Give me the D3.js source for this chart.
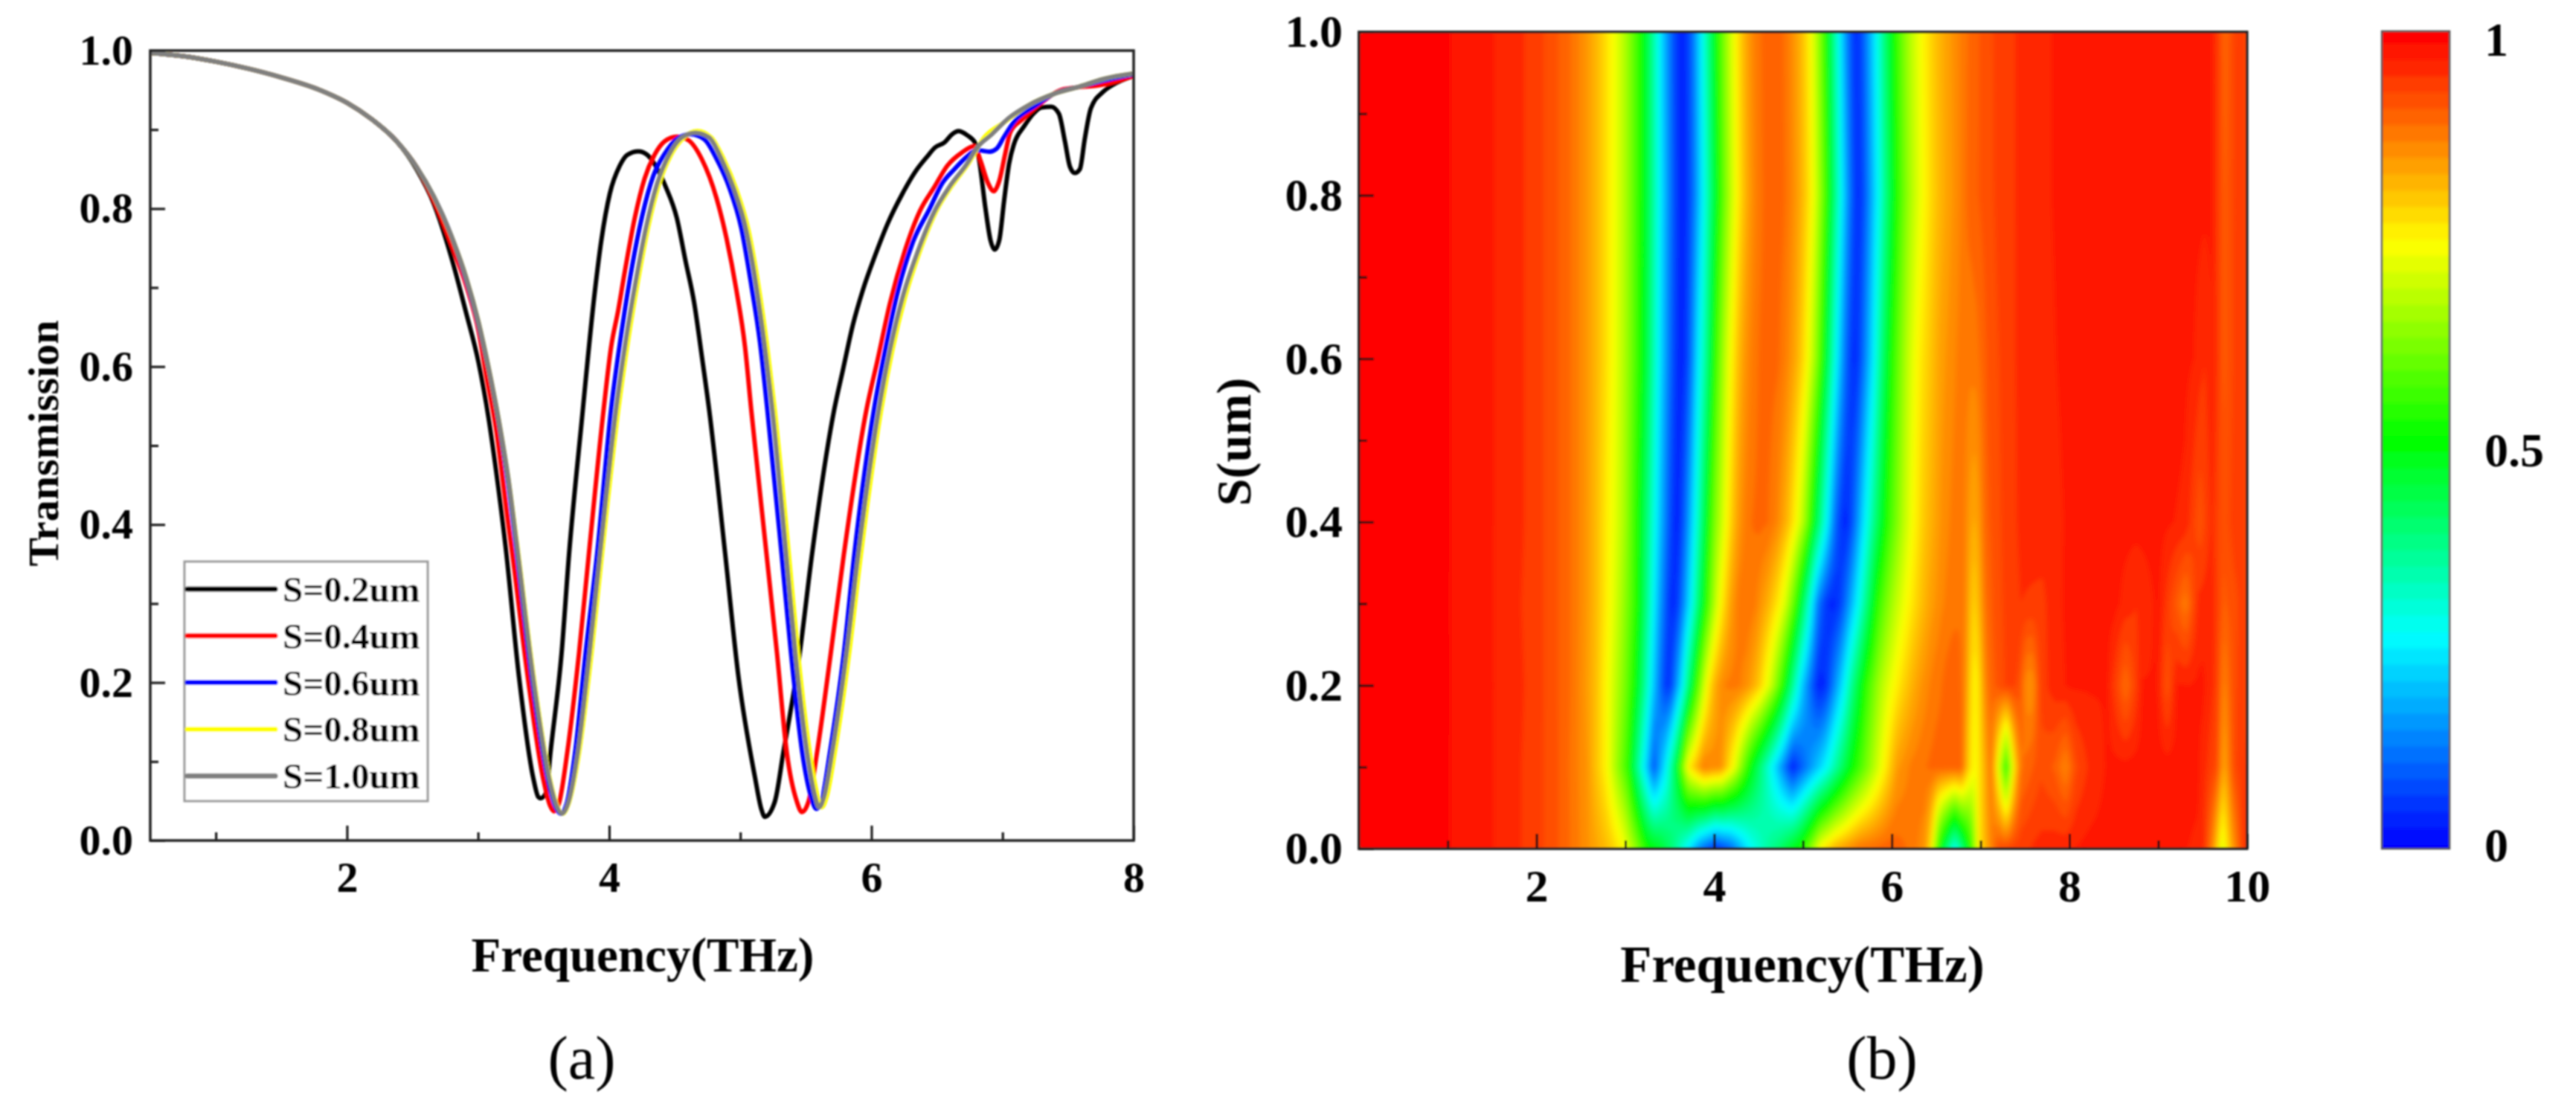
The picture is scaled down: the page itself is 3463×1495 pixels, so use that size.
<!DOCTYPE html>
<html><head><meta charset="utf-8">
<script src="https://cdnjs.cloudflare.com/ajax/libs/d3/7.8.5/d3.min.js"></script>
<style>html,body{margin:0;padding:0;background:#fff;overflow:hidden}svg{display:block}text{font-family:"Liberation Serif",serif;font-weight:bold;fill:#000}</style>
</head><body><svg id="c" width="3463" height="1495" xmlns="http://www.w3.org/2000/svg"></svg>
<script>
// ---- panel (a): transmission spectra ----
const seriesNames = ["S=0.2um","S=0.4um","S=0.6um","S=0.8um","S=1.0um"];
const seriesColors = ["#000000","#ff0000","#0000ff","#ffff00","#808080"];
const f02 = [.5,.75,1,1.25,1.5,1.81,2,2.19,2.38,2.53,2.663,2.795,2.909,3.004,3.08,3.136,3.21,3.313,3.42,3.46,3.476,3.52,3.552,3.637,3.694,3.79,3.892,3.94,4.005,4.08,4.138,4.223,4.29,4.365,4.43,4.516,4.582,4.648,4.705,4.762,4.885,4.987,5.112,5.16,5.187,5.263,5.328,5.453,5.547,5.717,5.783,5.859,5.935,6.029,6.124,6.237,6.332,6.426,6.483,6.559,6.615,6.663,6.729,6.795,6.823,6.87,6.908,6.94,6.975,7.012,7.05,7.088,7.164,7.24,7.296,7.372,7.43,7.476,7.514,7.551,7.59,7.627,7.674,7.769,7.845,8];
const t02 = [.997,.993,.986,.977,.966,.949,.934,.913,.885,.85,.806,.739,.668,.605,.535,.47,.372,.206,.08,.055,.0535,.061,.111,.237,.3625,.53,.697,.7595,.819,.854,.868,.8725,.868,.851,.828,.788,.734,.681,.615,.546,.3625,.206,.08,.04,.03,.049,.111,.237,.3625,.546,.596,.653,.697,.741,.781,.819,.846,.866,.877,.884,.894,.898,.893,.882,.86,.8,.76,.748,.76,.81,.857,.882,.904,.921,.928,.929,.92,.885,.853,.845,.85,.888,.927,.948,.957,.968];
const f04 = [.5,.75,1,1.25,1.5,1.81,2,2.19,2.38,2.53,2.663,2.795,2.909,3.004,3.06,3.136,3.23,3.262,3.38,3.495,3.55,3.58,3.62,3.68,3.77,3.845,3.958,4.015,4.07,4.119,4.195,4.27,4.346,4.422,4.516,4.6,4.705,4.819,4.894,4.97,5.036,5.083,5.2,5.28,5.355,5.43,5.47,5.52,5.585,5.69,5.79,5.963,6.048,6.143,6.256,6.37,6.483,6.578,6.691,6.785,6.833,6.89,6.933,6.975,7.02,7.06,7.145,7.26,7.466,7.769,8];
const t04 = [.997,.993,.986,.977,.966,.949,.934,.913,.885,.853,.81,.755,.703,.645,.592,.523,.402,.3625,.206,.08,.044,.037,.049,.111,.237,.3625,.546,.625,.672,.72,.788,.838,.868,.885,.891,.887,.863,.813,.763,.697,.625,.546,.3625,.237,.111,.05,.036,.049,.111,.237,.3625,.546,.609,.681,.747,.797,.828,.854,.871,.879,.86,.832,.822,.835,.869,.897,.912,.929,.951,.957,.968];
const f06 = [.5,.75,1,1.25,1.5,1.81,2,2.19,2.38,2.53,2.663,2.795,2.909,3.004,3.08,3.155,3.23,3.29,3.41,3.53,3.59,3.63,3.68,3.74,3.82,3.908,4.015,4.1,4.176,4.251,4.336,4.422,4.516,4.62,4.724,4.819,4.913,5.008,5.084,5.15,5.206,5.315,5.387,5.473,5.54,5.58,5.62,5.683,5.79,5.87,6.02,6.105,6.2,6.313,6.445,6.54,6.634,6.73,6.805,6.9,6.956,7.012,7.088,7.24,7.39,7.58,7.769,8];
const t06 = [.997,.993,.986,.977,.966,.949,.934,.913,.885,.853,.815,.766,.71,.653,.597,.532,.451,.372,.206,.08,.043,.034,.049,.111,.237,.3625,.546,.65,.728,.79,.841,.869,.888,.894,.888,.863,.828,.775,.703,.631,.546,.3625,.237,.111,.055,.04,.05,.111,.237,.3625,.546,.621,.694,.756,.8,.832,.85,.866,.874,.872,.876,.891,.91,.929,.945,.954,.962,.97];
const f08 = [.5,.75,1,1.25,1.5,1.81,2,2.19,2.38,2.53,2.663,2.795,2.909,3.004,3.08,3.155,3.23,3.3,3.425,3.545,3.605,3.645,3.695,3.77,3.865,3.945,4.07,4.145,4.22,4.295,4.38,4.475,4.57,4.672,4.777,4.872,4.968,5.063,5.138,5.205,5.262,5.37,5.44,5.53,5.59,5.62,5.66,5.72,5.83,5.92,6.075,6.16,6.255,6.365,6.495,6.61,6.74,6.86,7.012,7.2,7.39,7.58,7.769,8];
const t08 = [.997,.993,.986,.977,.966,.949,.934,.913,.885,.853,.815,.766,.713,.656,.599,.535,.459,.372,.206,.08,.043,.034,.049,.111,.237,.3625,.546,.634,.709,.775,.831,.869,.89,.898,.89,.863,.825,.772,.703,.625,.546,.3625,.237,.111,.056,.042,.056,.111,.237,.3625,.546,.621,.687,.744,.797,.828,.857,.89,.909,.931,.945,.954,.964,.971];
const f10 = [.5,.75,1,1.25,1.5,1.81,2,2.19,2.38,2.53,2.663,2.795,2.909,3.004,3.08,3.155,3.23,3.297,3.42,3.54,3.6,3.64,3.69,3.76,3.85,3.93,4.053,4.128,4.204,4.28,4.365,4.46,4.554,4.658,4.762,4.856,4.951,5.046,5.121,5.187,5.244,5.35,5.42,5.51,5.57,5.6,5.64,5.7,5.81,5.9,6.057,6.142,6.237,6.35,6.483,6.597,6.73,6.805,6.918,7.05,7.2,7.39,7.58,7.769,8];
const t10 = [.997,.993,.986,.977,.966,.949,.934,.913,.885,.853,.815,.766,.713,.656,.599,.535,.459,.372,.206,.08,.043,.034,.049,.111,.237,.3625,.546,.634,.709,.775,.831,.869,.89,.896,.89,.863,.825,.772,.703,.625,.546,.3625,.237,.111,.056,.042,.056,.111,.237,.3625,.546,.621,.687,.744,.797,.828,.857,.877,.894,.915,.931,.945,.954,.964,.971];
const seriesF = [f02,f04,f06,f08,f10];
const seriesT = [t02,t04,t06,t08,t10];

const tailF02 = [8.43,8.55,8.63,8.72,8.82,8.99,9.1,9.21,9.35,9.5,9.65,9.74,9.85,10];
const tailT02 = [.966,.92,.885,.92,.966,.966,.91,.966,.965,.97,.94,.86,.92,.94];
const tailF04 = [8.5,9,9.3,9.47,9.6,9.74,9.85,10];
const tailT04 = [.972,.972,.96,.91,.95,.91,.935,.94];
const tailF06 = [8.5,9.2,9.4,9.52,9.62,9.74,9.88,10];
const tailT06 = [.975,.975,.965,.945,.965,.9,.935,.935];
const tailF08 = [9,9.6,9.68,9.75,9.88,10];
const tailT08 = [.975,.97,.93,.9,.935,.935];
const tailF10 = [9,9.6,9.68,9.75,9.88,10];
const tailT10 = [.975,.97,.93,.89,.935,.935];
const rowF00 = [.5,1,1.5,2,2.29,2.57,2.82,2.96,3.1,3.24,3.4,3.54,3.69,3.85,4.02,4.19,4.3,4.41,4.58,4.74,4.97,5.08,5.2,5.36,5.64,6,6.22,6.37,6.45,6.53,6.71,6.9,6.98,7.06,7.2,7.62,8.18,9,9.5,9.62,9.72,9.82,9.97];
const rowT00 = [.997,.986,.966,.934,.9,.85,.8,.75,.65,.52,.46,.38,.26,.12,.04,.1,.18,.26,.34,.4,.52,.62,.75,.82,.88,.9,.88,.85,.75,.52,.26,.55,.76,.82,.92,.95,.97,.975,.96,.85,.7,.82,.95];
const rowF01 = [.5,1,1.5,2,2.29,2.57,2.78,3.02,3.21,3.32,3.46,3.6,3.71,3.88,4.08,4.16,4.22,4.41,4.66,4.88,5.25,5.55,5.92,6.06,6.22,6.45,6.78,6.87,6.94,7,7.12,7.2,7.29,7.37,7.45,7.68,7.84,7.96,8.07,8.23,8.46,9,9.44,9.66,9.74,9.85,10];
const rowT01 = [.997,.986,.966,.934,.9,.845,.75,.55,.25,.08,.25,.5,.75,.87,.85,.78,.73,.5,.25,.03,.25,.5,.75,.84,.87,.89,.9,.78,.73,.78,.88,.72,.52,.75,.88,.92,.9,.86,.92,.95,.97,.975,.97,.92,.82,.92,.95];
const rowF03 = [.5,1,1.5,2,2.19,2.38,2.53,2.663,2.795,2.909,3.004,3.08,3.15,3.24,3.35,3.46,3.51,3.53,3.58,3.64,3.73,3.8,3.92,4,4.08,4.18,4.28,4.36,4.46,4.6,4.72,4.8,4.9,5,5.08,5.16,5.26,5.34,5.42,5.48,5.6,5.7,5.85,5.95,6.05,6.16,6.3,6.42,6.55,6.7,6.8,6.85,6.92,6.98,7.05,7.15,7.25,7.45,7.7,7.85,8,8.5,8.75,9,9.31,9.45,9.6,9.74,10];
const rowT03 = [.997,.986,.966,.934,.913,.885,.853,.81,.752,.69,.625,.57,.5,.372,.206,.08,.042,.04,.05,.111,.237,.3625,.546,.66,.75,.83,.875,.885,.87,.82,.76,.7,.58,.42,.28,.13,.05,.035,.06,.111,.237,.3625,.546,.62,.68,.735,.79,.83,.86,.88,.885,.84,.78,.81,.88,.91,.925,.945,.94,.96,.97,.972,.945,.97,.87,.95,.96,.9,.94];
const heatS = [0,.1,.2,.3,.4,.6,.8,1];
const heatF = [rowF00,rowF01,f02.concat(tailF02),rowF03,f04.concat(tailF04),f06.concat(tailF06),f08.concat(tailF08),f10.concat(tailF10)];
const heatT = [rowT00,rowT01,t02.concat(tailT02),rowT03,t04.concat(tailT04),t06.concat(tailT06),t08.concat(tailT08),t10.concat(tailT10)];

// ---- ticks / labels ----
const xTicksA = [2,4,6,8], xMinorA = [1,3,5,7];
const xTicksB = [2,4,6,8,10], xMinorB = [1,3,5,7,9];
const yTicks = [0,.2,.4,.6,.8,1], yMinor = [.1,.3,.5,.7,.9];
const cbarTicks = [[1,"1"],[.5,"0.5"],[0,"0"]];
const colorStops = [0,.26,.5,.74,.995];
const colorVals = ["#0000ff","#00ffff","#00ff00","#ffff00","#ff0000"];
const levels = d3.range(50).map(k => .985 - .02*k);

const svg = d3.select("#c");
const A = {l:202,r:1524,t:68,b:1130}, B = {l:1826.8,r:3020.8,t:43,b:1141}, C = {l:3202,r:3293,t:42,b:1141};
const xA = d3.scaleLinear([.5,8],[A.l,A.r]), yA = d3.scaleLinear([0,1],[A.b,A.t]);
const xB = d3.scaleLinear([0,10],[B.l,B.r]), yB = d3.scaleLinear([0,1],[B.b,B.t]);
const yC = d3.scaleLinear([0,1],[C.b,C.t]);
const color = d3.scaleLinear(colorStops,colorVals).clamp(true);

const defs = svg.append("defs");
[["soft",.9],["mapBlur",3.2],["barBlur",2.5]].forEach(([id,sd])=>{
  defs.append("filter").attr("id",id).attr("filterUnits","userSpaceOnUse").attr("x",0).attr("y",0).attr("width",3463).attr("height",1495)
    .append("feGaussianBlur").attr("stdDeviation",sd);
});
const root = svg.append("g").attr("filter","url(#soft)");

function axes(g, x, y, box, xT, xM, fs, xLabY, yLabX){
  const bottom = d3.axisBottom(x).tickValues(xT).tickSize(-20).tickFormat(d3.format("d"));
  const gx = g.append("g").attr("transform",`translate(0,${box.b})`).call(bottom);
  const left = d3.axisLeft(y).tickValues(yTicks).tickSize(-20).tickFormat(d3.format(".1f"));
  const gy = g.append("g").attr("transform",`translate(${box.l},0)`).call(left);
  g.append("g").attr("transform",`translate(0,${box.b})`).call(d3.axisBottom(x).tickValues(xM).tickSize(-11).tickFormat(""));
  g.append("g").attr("transform",`translate(${box.l},0)`).call(d3.axisLeft(y).tickValues(yMinor).tickSize(-11).tickFormat(""));
  g.selectAll(".domain").remove();
  g.selectAll(".tick line").attr("stroke","#111").attr("stroke-width",3);
  gx.selectAll("text").attr("y",xLabY-box.b).attr("dy",0).attr("font-size",fs).style("font-family",'"Liberation Serif"').style("font-weight","bold").attr("fill","#000");
  gy.selectAll("text").attr("x",yLabX-box.l).attr("font-size",fs).style("font-family",'"Liberation Serif"').style("font-weight","bold").attr("fill","#000");
  g.append("rect").attr("x",box.l).attr("y",box.t).attr("width",box.r-box.l).attr("height",box.b-box.t)
    .attr("fill","none").attr("stroke","#222").attr("stroke-width",3.5);
}
defs.append("clipPath").attr("id","clipA").append("rect").attr("x",A.l).attr("y",A.t).attr("width",A.r-A.l).attr("height",A.b-A.t);
defs.append("clipPath").attr("id","clipB").append("rect").attr("x",B.l).attr("y",B.t).attr("width",B.r-B.l).attr("height",B.b-B.t);
defs.append("clipPath").attr("id","clipC").append("rect").attr("x",C.l).attr("y",C.t).attr("width",C.r-C.l).attr("height",C.b-C.t);

// panel (a)
const gA = root.append("g");
const line = d3.line().x(d=>xA(d[0])).y(d=>yA(d[1])).curve(d3.curveMonotoneX);
const lines = gA.append("g").attr("clip-path","url(#clipA)");
seriesNames.forEach((n,i)=>{
  lines.append("path").attr("d",line(d3.zip(seriesF[i],seriesT[i]))).attr("fill","none")
    .attr("stroke",seriesColors[i]).attr("stroke-width",6).attr("stroke-linejoin","round");
});
axes(gA,xA,yA,A,xTicksA,xMinorA,58,1199,179);
gA.append("text").attr("x",864).attr("y",1306).attr("text-anchor","middle").attr("font-size",65).text("Frequency(THz)");
gA.append("text").attr("transform","translate(78,596) rotate(-90)").attr("text-anchor","middle").attr("font-size",58).text("Transmission");
// legend
const leg = gA.append("g");
leg.append("rect").attr("x",248).attr("y",755).attr("width",327).attr("height",322).attr("fill","#fff").attr("stroke","#999").attr("stroke-width",3);
seriesNames.forEach((n,i)=>{
  const y = 792 + i*62.8;
  leg.append("line").attr("x1",252).attr("x2",370).attr("y1",y).attr("y2",y).attr("stroke",seriesColors[i]).attr("stroke-width",7).attr("stroke-linecap","round");
  leg.append("text").attr("x",380).attr("y",y+17).attr("font-size",49).text(n);
});

// panel (b): contour-filled map
const nx = 800, ny = 550;
const rowScales = heatF.map((f,i)=>d3.scaleLinear([0].concat(f,[10.001]),[1].concat(heatT[i],[heatT[i][heatT[i].length-1]])));
const values = new Float64Array(nx*ny);
const colF = d3.scaleLinear([0,nx-1],[0,10]), rowS = d3.scaleLinear([0,ny-1],[0,1]);
for(let i=0;i<nx;i++){
  const f = colF(i);
  const across = d3.scaleLinear(heatS, rowScales.map(s=>s(f)));
  for(let j=0;j<ny;j++) values[j*nx+i] = across(rowS(j));
}
const contours = d3.contours().size([nx,ny]).smooth(true).thresholds(levels.slice().reverse())(values);
const geo = d3.geoPath(d3.geoTransform({point(px,py){ this.stream.point(xB(colF(px-.5)), yB(rowS(py-.5))); }}));
const gB = root.append("g");
const map = gB.append("g").attr("clip-path","url(#clipB)");
const mapInner = map.append("g").attr("id","mapInner");
mapInner.append("rect").attr("x",B.l).attr("y",B.t).attr("width",B.r-B.l).attr("height",B.b-B.t).attr("fill",color(0));
mapInner.selectAll("path").data(contours).join("path").attr("d",geo).attr("fill",d=>color(d.value+.01)).attr("stroke",d=>color(d.value+.01)).attr("stroke-width",.6);
map.append("use").attr("href","#mapInner").attr("filter","url(#mapBlur)");
axes(gB,xB,yB,B,xTicksB,xMinorB,62,1212,1805);
gB.append("text").attr("x",2423).attr("y",1320).attr("text-anchor","middle").attr("font-size",69).text("Frequency(THz)");
gB.append("text").attr("transform","translate(1681,594) rotate(-90)").attr("text-anchor","middle").attr("font-size",66).text("S(um)");

// colour bar
const gC = root.append("g");
const barClip = gC.append("g").attr("clip-path","url(#clipC)");
const barInner = barClip.append("g").attr("id","barInner");
barInner.selectAll("rect.band").data(levels).join("rect").attr("class","band").attr("x",C.l).attr("width",C.r-C.l)
  .attr("y",d=>yC(Math.min(1,d+.02))).attr("height",d=>yC(d)-yC(Math.min(1,d+.02))+.6).attr("fill",d=>color(d+.01));
barInner.append("rect").attr("x",C.l).attr("width",C.r-C.l).attr("y",yC(.005)).attr("height",yC(0)-yC(.005)).attr("fill",color(0));
barClip.append("use").attr("href","#barInner").attr("filter","url(#barBlur)");
gC.append("rect").attr("x",C.l).attr("y",C.t).attr("width",C.r-C.l).attr("height",C.b-C.t).attr("fill","none").attr("stroke","#555").attr("stroke-width",2.5);
gC.selectAll("text").data(cbarTicks).join("text").attr("x",3340).attr("font-size",64)
  .attr("y",d=>({1:75,.5:627,0:1158})[d[0]]).text(d=>d[1]);

// captions
root.append("text").attr("x",782).attr("y",1450).attr("text-anchor","middle").attr("font-size",82).style("font-weight","normal").text("(a)");
root.append("text").attr("x",2530).attr("y",1450).attr("text-anchor","middle").attr("font-size",82).style("font-weight","normal").text("(b)");
</script></body></html>
